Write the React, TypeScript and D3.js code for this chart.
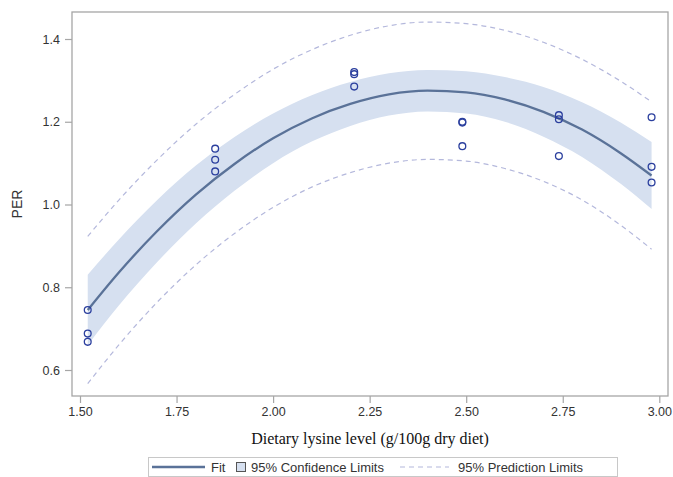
import React, { useEffect, useRef } from 'react';
import * as d3 from 'd3';

// observed PER values at each lysine level
const lysine = [1.52, 1.52, 1.52, 1.85, 1.85, 1.85, 2.21, 2.21, 2.21, 2.49, 2.49, 2.49, 2.74, 2.74, 2.74, 2.98, 2.98, 2.98];
const per = [0.745, 0.688, 0.668, 1.135, 1.108, 1.08, 1.32, 1.315, 1.285, 1.2, 1.198, 1.141, 1.216, 1.206, 1.117, 1.211, 1.091, 1.053];

// fitted curve and limits
const curveX = [1.52, 1.6, 1.7, 1.8, 1.9, 2.0, 2.1, 2.2, 2.3, 2.4, 2.5, 2.6, 2.7, 2.8, 2.9, 2.98];
const fit = [0.745, 0.835, 0.936, 1.024, 1.098, 1.16, 1.208, 1.243, 1.266, 1.275, 1.271, 1.254, 1.224, 1.181, 1.124, 1.07];
const confUpper = [0.83, 0.915, 1.011, 1.094, 1.163, 1.22, 1.264, 1.296, 1.317, 1.325, 1.322, 1.308, 1.284, 1.247, 1.198, 1.151];
const confLower = [0.66, 0.755, 0.861, 0.954, 1.033, 1.1, 1.152, 1.19, 1.215, 1.225, 1.22, 1.2, 1.164, 1.115, 1.05, 0.989];
const predUpper = [0.923, 1.01, 1.108, 1.194, 1.266, 1.327, 1.374, 1.409, 1.432, 1.441, 1.437, 1.421, 1.392, 1.351, 1.298, 1.248];
const predLower = [0.567, 0.66, 0.764, 0.854, 0.93, 0.993, 1.042, 1.077, 1.1, 1.109, 1.105, 1.087, 1.056, 1.011, 0.95, 0.892];

const xTicks = [1.5, 1.75, 2.0, 2.25, 2.5, 2.75, 3.0];
const yTicks = [0.6, 0.8, 1.0, 1.2, 1.4];

const W = 673;
const H = 477;
const frame = { left: 72, right: 668, top: 12, bottom: 396 };
const sans = '"Liberation Sans", Arial, sans-serif';
const serif = '"Liberation Serif", "Times New Roman", serif';

function App() {
  const ref = useRef<SVGSVGElement>(null);

  useEffect(() => {
    const svg = d3.select(ref.current);
    svg.selectAll('*').remove();

    const x = d3.scaleLinear().domain([1.5, 3.0]).range([80, 659.3]);
    const y = d3.scaleLinear().domain([0.6, 1.4]).range([370, 39]);

    const idx = d3.range(curveX.length);

    // confidence band
    const band = d3.area<number>()
      .x(i => x(curveX[i]))
      .y0(i => y(confLower[i]))
      .y1(i => y(confUpper[i]))
      .curve(d3.curveMonotoneX);
    svg.append('path')
      .datum(idx)
      .attr('d', band)
      .attr('fill', '#d6e0f0');

    // prediction limits
    const curvePath = (vals: number[]) => d3.line<number>()
      .x(i => x(curveX[i]))
      .y(i => y(vals[i]))
      .curve(d3.curveMonotoneX)(idx);
    [predUpper, predLower].forEach(vals => {
      svg.append('path')
        .attr('d', curvePath(vals))
        .attr('fill', 'none')
        .attr('stroke', '#b4b8dc')
        .attr('stroke-width', 1.2)
        .attr('stroke-dasharray', '5,4');
    });

    // fit line
    svg.append('path')
      .attr('d', curvePath(fit))
      .attr('fill', 'none')
      .attr('stroke', '#5a7298')
      .attr('stroke-width', 2.3);

    // observations
    svg.append('g')
      .selectAll('circle')
      .data(lysine)
      .join('circle')
      .attr('cx', d => x(d))
      .attr('cy', (d, i) => y(per[i]))
      .attr('r', 3.4)
      .attr('fill', 'none')
      .attr('stroke', '#2b3f9e')
      .attr('stroke-width', 1.3);

    // frame
    svg.append('rect')
      .attr('x', frame.left)
      .attr('y', frame.top)
      .attr('width', frame.right - frame.left)
      .attr('height', frame.bottom - frame.top)
      .attr('fill', 'none')
      .attr('stroke', '#a6a6a6')
      .attr('stroke-width', 1.3);

    // x axis
    const xAxis = svg.append('g')
      .attr('transform', `translate(0,${frame.bottom})`)
      .call(d3.axisBottom(x).tickValues(xTicks).tickFormat(d3.format('.2f')).tickSize(7).tickSizeOuter(0).tickPadding(4));
    xAxis.select('.domain').remove();

    // y axis
    const yAxis = svg.append('g')
      .attr('transform', `translate(${frame.left},0)`)
      .call(d3.axisLeft(y).tickValues(yTicks).tickFormat(d3.format('.1f')).tickSize(7).tickSizeOuter(0).tickPadding(5));
    yAxis.select('.domain').remove();

    [xAxis, yAxis].forEach(g => {
      g.selectAll('line').attr('stroke', '#a6a6a6').attr('stroke-width', 1.2);
      g.selectAll('text')
        .attr('fill', '#333')
        .style('font-family', sans)
        .style('font-size', '12.5px');
    });

    // axis titles
    svg.append('text')
      .attr('x', 370)
      .attr('y', 444)
      .attr('text-anchor', 'middle')
      .attr('fill', '#111')
      .style('font-family', serif)
      .style('font-size', '16px')
      .text('Dietary lysine level (g/100g dry diet)');

    svg.append('text')
      .attr('transform', 'translate(22,204) rotate(-90)')
      .attr('text-anchor', 'middle')
      .attr('fill', '#333')
      .style('font-family', sans)
      .style('font-size', '14px')
      .text('PER');

    // legend
    const legend = svg.append('g');
    legend.append('rect')
      .attr('x', 148.5)
      .attr('y', 457.5)
      .attr('width', 469)
      .attr('height', 19)
      .attr('fill', 'none')
      .attr('stroke', '#c8c8c8');
    legend.append('line')
      .attr('x1', 152).attr('x2', 205)
      .attr('y1', 467).attr('y2', 467)
      .attr('stroke', '#5a7298')
      .attr('stroke-width', 2.3);
    legend.append('text')
      .attr('x', 211).attr('y', 471.5)
      .text('Fit');
    legend.append('rect')
      .attr('x', 236.5).attr('y', 462.5)
      .attr('width', 9).attr('height', 9)
      .attr('fill', '#d6e0f0')
      .attr('stroke', '#555')
      .attr('stroke-width', 1);
    legend.append('text')
      .attr('x', 251).attr('y', 471.5)
      .text('95% Confidence Limits');
    legend.append('line')
      .attr('x1', 400).attr('x2', 449)
      .attr('y1', 467).attr('y2', 467)
      .attr('stroke', '#b4b8dc')
      .attr('stroke-width', 1.2)
      .attr('stroke-dasharray', '5,4');
    legend.append('text')
      .attr('x', 458).attr('y', 471.5)
      .text('95% Prediction Limits');
    legend.selectAll('text')
      .attr('fill', '#333')
      .style('font-family', sans)
      .style('font-size', '13px');
  }, []);

  return (
    <svg
      ref={ref}
      width={W}
      height={H}
      style={{ position: 'absolute', left: 0, top: 0, background: '#fff' }}
    />
  );
}

export default App;
